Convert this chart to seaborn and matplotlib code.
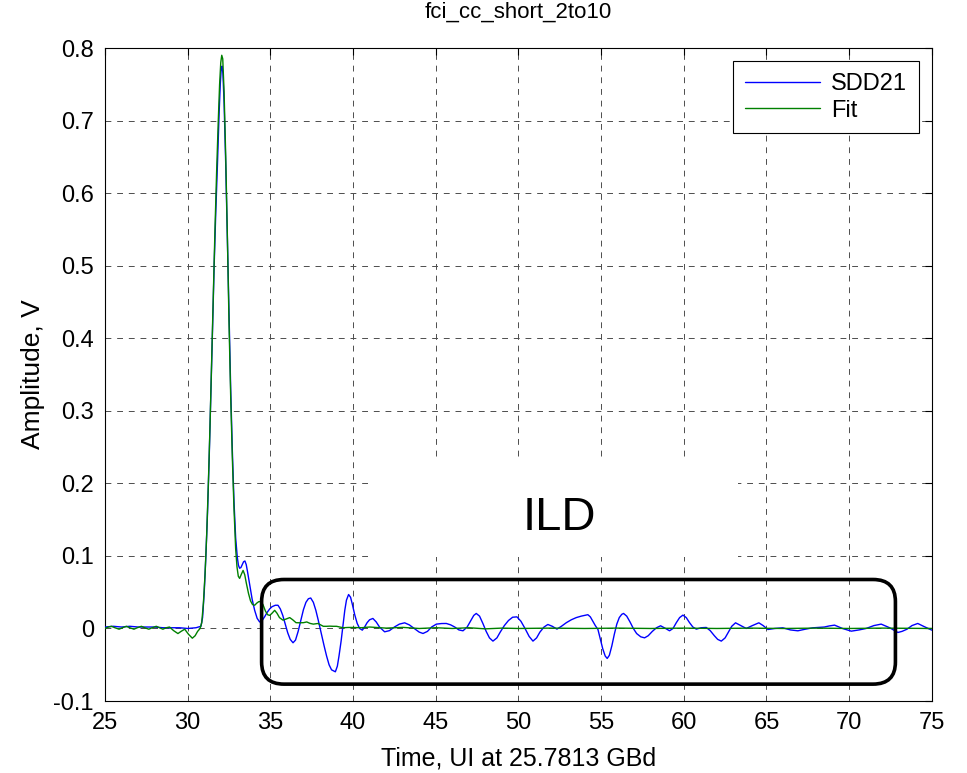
import numpy as np
import pandas as pd
import seaborn as sns
import matplotlib.pyplot as plt
from matplotlib.patches import FancyBboxPatch, Rectangle

# values
sdd21_t = [25.0, 25.5, 26.0, 26.5, 27.0, 27.5, 28.0, 28.5, 29.0, 29.5, 30.0, 30.5, 30.8,
           30.9, 31.0, 31.1, 31.2, 31.3, 31.4, 31.5, 31.6, 31.7, 31.8, 31.9, 31.97, 32.03,
           32.08, 32.13, 32.2, 32.3, 32.4, 32.5, 32.6, 32.7, 32.8, 32.9, 33.0, 33.07, 33.14,
           33.22, 33.3, 33.38, 33.46, 33.54, 33.62, 33.75, 33.9, 34.05, 34.2, 34.35, 34.5,
           34.65, 34.8, 34.96, 35.1, 35.3, 35.46, 35.6, 35.75, 35.9, 36.05, 36.2, 36.37,
           36.52, 36.68, 36.85, 37.0, 37.15, 37.3, 37.44, 37.6, 37.75, 37.9, 38.08, 38.25,
           38.4, 38.55, 38.7, 38.93, 39.05, 39.15, 39.28, 39.4, 39.5, 39.6, 39.73, 39.85,
           39.95, 40.1, 40.25, 40.4, 40.56, 40.7, 40.85, 41.0, 41.2, 41.4, 41.6, 41.91, 42.2,
           42.5, 42.8, 43.12, 43.4, 43.7, 44.0, 44.23, 44.5, 44.75, 45.04, 45.35, 45.64, 45.9,
           46.15, 46.4, 46.65, 46.9, 47.1, 47.3, 47.45, 47.65, 47.85, 48.05, 48.25, 48.46,
           48.7, 48.9, 49.15, 49.4, 49.65, 49.91, 50.15, 50.4, 50.65, 50.88, 51.1, 51.3,
           51.55, 51.78, 52.05, 52.33, 52.6, 52.9, 53.2, 53.5, 53.8, 54.0, 54.2, 54.35, 54.5,
           54.65, 54.81, 54.95, 55.1, 55.25, 55.37, 55.5, 55.65, 55.8, 55.95, 56.1, 56.25,
           56.36, 56.55, 56.75, 56.95, 57.15, 57.4, 57.63, 57.85, 58.1, 58.35, 58.6, 58.9,
           59.14, 59.35, 59.55, 59.75, 59.95, 60.15, 60.35, 60.55, 60.76, 61.05, 61.36, 61.6,
           61.85, 62.05, 62.27, 62.5, 62.7, 62.9, 63.13, 63.45, 63.78, 64.15, 64.54, 64.8,
           65.09, 65.5, 65.99, 66.45, 66.9, 67.35, 67.8, 68.2, 68.5, 68.8, 69.12, 69.6, 70.13,
           70.6, 71.03, 71.5, 71.94, 72.45, 72.95, 73.2, 73.5, 73.8, 74.15, 74.5, 75.0]
sdd21_v = [0.002, 0.003, 0.002, 0.003, 0.002, 0.002, 0.002, 0.001, 0.001, 0.001, 0.0, 0.001, 0.003,
           0.015, 0.05, 0.10, 0.16, 0.235, 0.32, 0.41, 0.50, 0.575, 0.64, 0.71, 0.75, 0.772,
           0.775, 0.765, 0.725, 0.64, 0.535, 0.43, 0.33, 0.245, 0.175, 0.125, 0.098, 0.087, 0.083,
           0.084, 0.088, 0.092, 0.093, 0.088, 0.078, 0.06, 0.04, 0.025, 0.014, 0.009, 0.011,
           0.016, 0.022, 0.027, 0.030, 0.032, 0.032, 0.027, 0.018, 0.006, -0.006, -0.015, -0.0197,
           -0.016, -0.004, 0.012, 0.026, 0.036, 0.041, 0.042, 0.036, 0.025, 0.011, -0.007, -0.024,
           -0.038, -0.05, -0.057, -0.0597, -0.052, -0.038, -0.017, 0.006, 0.025, 0.039, 0.0468, 0.043,
           0.034, 0.019, 0.007, 0.0, -0.0023, 0.002, 0.008, 0.012, 0.0138, 0.009, 0.002, -0.0046, -0.003,
           0.002, 0.006, 0.0078, 0.005, 0.0, -0.005, -0.0069, -0.004, 0.002, 0.006, 0.0068, 0.0069, 0.005,
           0.002, -0.002, -0.0032, 0.002, 0.01, 0.018, 0.0207, 0.017, 0.007, -0.004, -0.013, -0.0174,
           -0.013, -0.005, 0.004, 0.011, 0.0155, 0.016, 0.01, 0.0, -0.011, -0.0174, -0.013, -0.005,
           0.002, 0.0055, 0.003, -0.0009, 0.003, 0.008, 0.012, 0.015, 0.017, 0.018, 0.019, 0.016, 0.01,
           0.004, -0.0014, -0.014, -0.028, -0.038, -0.0413, -0.037, -0.024, -0.008, 0.006, 0.015, 0.0195,
           0.0207, 0.017, 0.009, 0.0, -0.007, -0.0115, -0.0129, -0.01, -0.004, 0.001, 0.0037, 0.0,
           -0.0032, 0.0, 0.008, 0.015, 0.0184, 0.015, 0.008, 0.002, -0.0009, 0.001, 0.0014, -0.003,
           -0.01, -0.015, -0.0174, -0.013, -0.005, 0.003, 0.0078, 0.004, 0.0, 0.004, 0.0078, 0.004,
           -0.0014, 0.0, 0.0009, -0.002, -0.0032, -0.001, 0.0009, 0.0015, 0.002, 0.0035, 0.0046, 0.0, -0.0037,
           -0.002, 0.0, 0.004, 0.006, 0.001, -0.0055, -0.004, -0.001, 0.004, 0.0069, 0.003, -0.0023]

fit_t = [25.0, 25.2, 25.39, 25.6, 25.85, 26.05, 26.29, 26.5, 26.75, 26.95, 27.2, 27.4, 27.65,
         27.85, 28.1, 28.3, 28.5, 28.7, 28.9, 29.15, 29.41, 29.6, 29.82, 30.05, 30.28, 30.45,
         30.6, 30.75, 30.85, 30.95, 31.05, 31.15, 31.25, 31.35, 31.45, 31.55, 31.65, 31.75,
         31.85, 31.93, 32.0, 32.06, 32.12, 32.2, 32.3, 32.4, 32.5, 32.6, 32.7, 32.8, 32.9,
         32.98, 33.06, 33.14, 33.25, 33.35, 33.45, 33.55, 33.68, 33.8, 33.92, 34.05, 34.18,
         34.3, 34.42, 34.55, 34.7, 34.83, 34.96, 35.1, 35.26, 35.4, 35.55, 35.76, 35.95,
         36.17, 36.35, 36.55, 36.77, 37.0, 37.2, 37.4, 37.6, 37.88, 38.2, 38.4, 38.59, 38.8,
         39.0, 39.4, 39.7, 40.0, 40.5, 41.0, 42.0, 43.0, 44.0, 45.0, 46.0, 47.0, 48.0, 49.0,
         50.0, 52.0, 54.0, 56.0, 58.0, 60.0, 62.0, 64.0, 66.0, 68.0, 70.0, 72.0, 75.0]
fit_v = [0.0, 0.002, 0.003, 0.001, -0.001, 0.001, 0.003, 0.001, -0.001, 0.001, 0.003, 0.001, -0.001,
         0.001, 0.003, 0.001, -0.001, 0.001, 0.002, -0.003, -0.007, -0.004, -0.001, -0.008, -0.0134, -0.01,
         -0.004, 0.0, 0.008, 0.035, 0.075, 0.13, 0.2, 0.28, 0.37, 0.46, 0.55, 0.63,
         0.70, 0.75, 0.78, 0.79, 0.785, 0.74, 0.65, 0.54, 0.42, 0.32, 0.235, 0.165, 0.11,
         0.085, 0.072, 0.069, 0.075, 0.08, 0.074, 0.062, 0.048, 0.038, 0.033, 0.032, 0.035,
         0.037, 0.037, 0.033, 0.024, 0.019, 0.018, 0.021, 0.025, 0.021, 0.015, 0.0115, 0.013,
         0.015, 0.012, 0.008, 0.0078, 0.008, 0.009, 0.007, 0.006, 0.0069, 0.003, 0.003, 0.0032, 0.003,
         0.003, 0.001, 0.0014, 0.0014, 0.001, 0.002, 0.0005, 0.0015, 0.0, 0.001, 0.0, 0.001, -0.0005, 0.0005,
         0.0, 0.0005, 0.0, 0.0005, 0.0, 0.0005, 0.0, 0.0005, 0.0, 0.0005, 0.0, 0.0005, 0.0]

df = pd.concat([
    pd.DataFrame({'t': sdd21_t, 'v': sdd21_v, 'series': 'SDD21'}),
    pd.DataFrame({'t': fit_t, 'v': fit_v, 'series': 'Fit'}),
], ignore_index=True)

sns.set_style('white')
plt.rcParams['font.family'] = ['Liberation Sans', 'DejaVu Sans']
plt.rcParams['text.color'] = 'black'
plt.rcParams['axes.labelcolor'] = 'black'

fig = plt.figure(figsize=(9.67, 7.73), dpi=100)
ax = fig.add_axes([0.1086, 0.0931, 0.855, 0.8448])

sns.lineplot(data=df, x='t', y='v', hue='series', palette={'SDD21': '#0000ff', 'Fit': '#008000'},
             sort=False, estimator=None, lw=1.0, ax=ax, zorder=3)

ax.set_xlim(25, 75)
ax.set_ylim(-0.1, 0.8)
ax.set_xticks(np.arange(25, 76, 5))
ax.set_yticks(np.round(np.arange(-0.1, 0.81, 0.1), 1))
ax.set_yticklabels(['-0.1', '0', '0.1', '0.2', '0.3', '0.4', '0.5', '0.6', '0.7', '0.8'])
ax.grid(True, linestyle=(0, (6, 6)), color='0.3', linewidth=0.7)
ax.tick_params(direction='in', top=True, right=True, length=5, width=0.8,
               labelsize=17, colors='black')
ax.tick_params(axis='x', pad=8)
ax.tick_params(axis='y', pad=8)
for s in ax.spines.values():
    s.set_color('black')
    s.set_linewidth(0.8)

ax.set_title('fci_cc_short_2to10', fontsize=16, pad=22)
ax.set_xlabel('Time, UI at 25.7813 GBd', fontsize=18, labelpad=9)
ax.set_ylabel('Amplitude, V', fontsize=19, labelpad=6)

# white background behind the ILD label
ax.add_patch(Rectangle((41.2, 0.098), 22.05, 0.137, facecolor='white', edgecolor='none', zorder=2))
ax.text(52.45, 0.152, 'ILD', fontsize=34, ha='center', va='center', zorder=4)

# rounded box around the ILD region
box = FancyBboxPatch((34.47, -0.0767), 72.8 - 34.47, 0.0675 + 0.0767,
                     boxstyle='round,pad=0,rounding_size=1.35', mutation_aspect=0.0225,
                     facecolor='none', edgecolor='black', linewidth=2.6, zorder=5)
ax.add_patch(box)

leg = ax.legend(loc='upper right', fontsize=17, handlelength=3.2, frameon=True,
                fancybox=False, edgecolor='black', framealpha=1, borderaxespad=0.55,
                borderpad=0.5, labelspacing=0.2, handletextpad=0.45)
leg.get_frame().set_linewidth(0.8)
leg.set_title(None)

fig.savefig('out.png', dpi=100)
